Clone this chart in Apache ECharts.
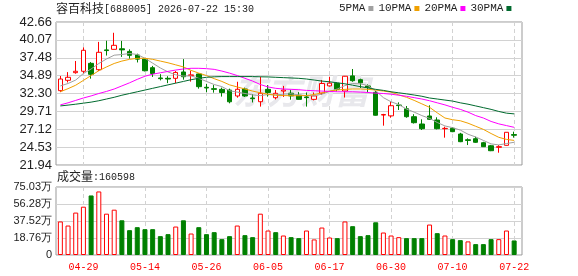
<!DOCTYPE html>
<html>
<head>
<meta charset="utf-8">
<script src="https://cdn.jsdelivr.net/npm/echarts@6/dist/echarts.min.js"></script>
<style>
  html, body { margin: 0; padding: 0; background: #fff; }
  #chart { width: 578px; height: 276px; }
</style>
</head>
<body>
<div id="chart"></div>
<script>
  const dates = [
    "04-24", "04-27", "04-28", "04-29", "04-30", "05-06", "05-07", "05-08", "05-11", "05-12",
    "05-13", "05-14", "05-15", "05-18", "05-19", "05-20", "05-21", "05-22", "05-25", "05-26",
    "05-27", "05-28", "05-29", "06-01", "06-02", "06-03", "06-04", "06-05", "06-08", "06-09",
    "06-10", "06-11", "06-12", "06-15", "06-16", "06-17", "06-18", "06-22", "06-23", "06-24",
    "06-25", "06-26", "06-29", "06-30", "07-01", "07-02", "07-03", "07-06", "07-07", "07-08",
    "07-09", "07-10", "07-13", "07-14", "07-15", "07-16", "07-17", "07-20", "07-21", "07-22"
  ];
  const labelDates = ["04-29", "05-14", "05-26", "06-05", "06-17", "06-30", "07-10", "07-22"];

  const open = [
    32.71, 34.21, 35.32, 35.52, 36.67, 35.75, 38.62, 38.70, 38.78, 38.40,
    37.88, 37.30, 36.04, 34.55, 34.50, 34.50, 35.42, 34.90, 35.13, 33.20,
    33.00, 32.90, 32.80, 31.94, 32.95, 31.65, 31.11, 32.90, 31.69, 32.65,
    32.35, 32.05, 31.80, 31.45, 32.35, 33.40, 33.78, 32.66, 34.85, 34.30,
    33.40, 32.47, 29.18, 29.06, 30.63, 30.09, 28.94, 27.88, 29.04, 28.46,
    27.20, 27.26, 26.43, 25.60, 25.75, 25.17, 24.73, 24.50, 24.79, 26.35
  ];
  const close = [
    34.40, 34.65, 35.52, 38.56, 35.08, 38.27, 38.52, 39.28, 38.62, 37.83,
    37.28, 35.60, 35.20, 34.45, 34.40, 35.35, 34.73, 35.00, 33.29, 33.10,
    32.90, 32.45, 31.10, 32.91, 31.94, 31.55, 32.33, 32.45, 32.33, 32.80,
    31.95, 31.45, 31.70, 31.95, 33.75, 33.80, 32.91, 34.80, 34.15, 33.85,
    33.20, 29.15, 29.25, 30.53, 30.55, 28.94, 28.07, 27.20, 28.56, 27.20,
    27.25, 26.77, 25.32, 25.50, 25.23, 24.59, 24.01, 24.60, 26.68, 26.25
  ];
  const low = [
    32.50, 33.90, 35.17, 35.23, 34.45, 35.55, 37.80, 38.68, 37.60, 37.35,
    36.80, 35.50, 34.70, 34.20, 33.80, 33.80, 34.30, 34.02, 33.00, 32.50,
    32.42, 31.85, 30.88, 31.70, 31.80, 31.00, 30.40, 31.85, 31.45, 31.80,
    31.40, 31.40, 30.40, 31.30, 32.10, 33.30, 32.60, 31.72, 34.00, 33.10,
    32.47, 29.10, 27.64, 28.79, 29.91, 28.79, 27.95, 27.01, 28.46, 27.10,
    25.90, 26.70, 25.25, 24.83, 25.15, 24.55, 23.95, 23.72, 24.75, 25.90
  ];
  const high = [
    34.84, 35.40, 37.01, 38.99, 36.85, 39.78, 39.95, 41.10, 39.92, 38.70,
    38.07, 37.35, 36.30, 35.10, 34.80, 35.55, 37.28, 35.60, 35.20, 33.70,
    33.52, 33.15, 33.00, 34.00, 33.15, 32.20, 34.73, 33.52, 32.81, 33.40,
    32.80, 32.50, 32.45, 32.45, 34.26, 34.73, 33.90, 34.84, 35.85, 34.45,
    33.62, 32.65, 29.35, 31.21, 31.02, 30.49, 29.30, 28.56, 30.59, 28.85,
    27.49, 27.40, 26.60, 25.80, 26.04, 25.30, 24.85, 24.83, 26.70, 26.77
  ];

  // volume, in units of 万 shares
  const volume = [
    37.0, 32.5, 46.8, 53.3, 65.7, 70.1, 45.6, 50.0, 38.3, 27.4,
    30.7, 28.5, 28.5, 20.8, 23.0, 31.4, 38.3, 23.7, 30.7, 23.0,
    25.2, 17.5, 20.8, 32.5, 21.9, 19.7, 45.6, 27.0, 25.2, 21.5,
    19.7, 18.6, 27.0, 17.2, 30.3, 19.3, 18.6, 37.0, 31.8, 20.8,
    21.9, 36.1, 24.8, 21.5, 19.7, 18.6, 18.6, 18.6, 33.6, 24.1,
    21.5, 17.5, 16.4, 15.0, 12.0, 12.0, 17.5, 17.5, 27.0, 16.06
  ];

  const ma5 = [
    33.40, 33.75, 34.25, 35.20, 35.85, 36.65, 37.30, 37.85, 37.95, 38.10,
    37.95, 37.40, 36.70, 36.00, 35.42, 35.00, 34.83, 34.85, 34.50, 34.05,
    33.60, 33.30, 32.70, 32.50, 32.30, 32.10, 32.00, 32.15, 32.10, 32.20,
    32.25, 32.10, 32.00, 31.98, 32.20, 32.60, 32.95, 33.45, 33.75, 33.70,
    33.45, 32.70, 31.70, 31.10, 30.70, 30.05, 29.60, 29.10, 28.70, 28.10,
    27.60, 27.35, 27.00, 26.40, 26.00, 25.50, 25.00, 24.85, 25.05, 25.23
  ];
  const ma10 = [
    32.56, 33.00, 33.50, 34.20, 34.90, 35.60, 36.15, 36.65, 37.00, 37.25,
    37.40, 37.40, 37.25, 37.00, 36.75, 36.45, 36.15, 35.65, 35.25, 34.90,
    34.45, 34.05, 33.55, 33.25, 32.95, 32.65, 32.40, 32.20, 32.05, 32.00,
    31.98, 31.98, 32.00, 32.15, 32.40, 32.65, 32.80, 32.90, 32.95, 32.95,
    32.90, 32.80, 32.65, 32.50, 32.10, 31.75, 31.30, 30.80, 30.30, 29.50,
    28.75, 28.50, 28.35, 28.00, 27.55, 27.10, 26.50, 25.95, 25.65, 25.50
  ];
  const ma20 = [
    30.65, 30.95, 31.30, 31.65, 31.95, 32.30, 32.60, 32.95, 33.40, 33.85,
    34.35, 34.80, 35.10, 35.30, 35.50, 35.70, 35.85, 35.95, 35.95, 35.90,
    35.80, 35.55, 35.25, 34.90, 34.50, 34.10, 33.60, 33.25, 33.05, 32.95,
    32.90, 32.85, 32.75, 32.70, 32.65, 32.60, 32.55, 32.55, 32.55, 32.50,
    32.45, 32.35, 32.30, 32.20, 32.05, 31.90, 31.70, 31.50, 31.25, 30.95,
    30.65, 30.30, 30.00, 29.60, 29.10, 28.75, 28.25, 27.90, 27.65, 27.40
  ];
  const ma30 = [
    30.50, 30.62, 30.75, 30.90, 31.05, 31.25, 31.50, 31.75, 32.05, 32.30,
    32.55, 32.80, 33.05, 33.30, 33.55, 33.80, 34.05, 34.30, 34.50, 34.65,
    34.72, 34.75, 34.75, 34.75, 34.75, 34.75, 34.72, 34.70, 34.65, 34.60,
    34.55, 34.50, 34.40, 34.25, 34.10, 34.00, 33.85, 33.70, 33.50, 33.30,
    33.10, 32.90, 32.75, 32.55, 32.40, 32.25, 32.08, 31.90, 31.65, 31.50,
    31.35, 31.20, 30.95, 30.75, 30.50, 30.25, 30.00, 29.70, 29.45, 29.35
  ];

  const volTicks = ["0", "18.76万", "37.52万", "56.28万", "75.03万"];
  const lastVolume = "160598";

  const colors = {
    up: "#ff0000",
    down: "#008000",
    ma5: "#a0a0a0",
    ma10: "#f0a000",
    ma20: "#ff00ff",
    ma30: "#006a2e",
    split: "#d2d2d2",
    frame: "#999999",
    text: "#222222"
  };

  const chart = echarts.init(document.getElementById("chart"), null, { renderer: "canvas" });

  const candleData = dates.map((d, i) => [open[i], close[i], low[i], high[i]]);

  // volume bar colour follows the close against the previous close
  const volData = volume.map((v, i) => {
    const ref = i > 0 ? close[i - 1] : open[i];
    const up = close[i] >= ref;
    return {
      value: v,
      itemStyle: up
        ? { color: "#ffffff", borderColor: colors.up, borderWidth: 1 }
        : { color: colors.down, borderColor: colors.down, borderWidth: 1 }
    };
  });

  const showDate = (index, value) => labelDates.indexOf(value) >= 0;

  const dashed = {
    show: true,
    interval: showDate,
    alignWithLabel: true,
    lineStyle: { color: colors.split, type: [4, 3], width: 1 }
  };

  function maSeries(name, data, color) {
    return {
      name,
      type: "line",
      xAxisIndex: 1,
      yAxisIndex: 1,
      data,
      symbol: "none",
      smooth: false,
      lineStyle: { width: 1, color },
      itemStyle: { color },
      z: 3
    };
  }

  const monoFont = '"Liberation Mono", monospace';
  const cjkFont = '"Noto Sans CJK SC", sans-serif';

  chart.setOption({
    animation: false,
    backgroundColor: "#ffffff",
    legend: {
      data: ["5PMA", "10PMA", "20PMA", "30PMA"],
      left: 339,
      top: 3,
      padding: 0,
      align: "right",
      icon: "rect",
      itemWidth: 5,
      itemHeight: 5,
      itemGap: 5,
      selectedMode: false,
      textStyle: { fontFamily: monoFont, fontSize: 11, color: colors.text, padding: [0, -2, 0, 0] }
    },
    graphic: [
      {
        type: "text",
        left: 56,
        top: 2,
        style: { text: "容百科技", font: "12px " + cjkFont, fill: colors.text }
      },
      {
        type: "text",
        left: 104,
        top: 4,
        style: { text: "[688005] 2026-07-22 15:30", font: "10px " + monoFont, fill: colors.text }
      },
      {
        type: "text",
        left: 57,
        top: 170,
        style: { text: "成交量", font: "12px " + cjkFont, fill: colors.text }
      },
      {
        type: "text",
        left: 93,
        top: 172,
        style: { text: ":" + lastVolume, font: "10px " + monoFont, fill: colors.text }
      },
      {
        type: "text",
        left: 233,
        top: 74,
        z: 1,
        style: { text: "东方财富", font: "italic bold 34px " + cjkFont, fill: "#e8e8ec" }
      }
    ],
    grid: [
      { left: 56, top: 22, width: 466, height: 143, show: true, borderColor: colors.frame, borderWidth: 1 },
      { left: 56.5, top: 22, width: 461.5, height: 143 },
      { left: 56, top: 187, width: 466, height: 68, show: true, borderColor: colors.frame, borderWidth: 1 },
      { left: 56.5, top: 187, width: 461.5, height: 68 }
    ],
    xAxis: [
      { type: "value", gridIndex: 0, show: false, min: 0, max: 1 },
      {
        type: "category",
        gridIndex: 1,
        data: dates,
        boundaryGap: true,
        axisLine: { show: false },
        axisTick: { show: false },
        axisLabel: { show: false },
        splitLine: dashed
      },
      { type: "value", gridIndex: 2, show: false, min: 0, max: 1 },
      {
        type: "category",
        gridIndex: 3,
        data: dates,
        boundaryGap: true,
        axisLine: { show: false },
        axisTick: { show: false },
        axisLabel: {
          interval: showDate,
          color: colors.up,
          fontFamily: monoFont,
          fontSize: 10,
          margin: 7
        },
        splitLine: dashed
      }
    ],
    yAxis: [
      {
        type: "value",
        gridIndex: 0,
        min: 21.94,
        max: 42.66,
        interval: 2.59,
        axisLine: { show: false },
        axisTick: { show: false },
        axisLabel: {
          formatter: (v) => v.toFixed(2),
          fontFamily: '"Liberation Sans", Arial, sans-serif',
          fontSize: 13,
          color: colors.text,
          margin: 4
        },
        splitLine: { lineStyle: { color: colors.split, width: 1 } }
      },
      { type: "value", gridIndex: 1, min: 21.94, max: 42.66, show: false },
      {
        type: "value",
        gridIndex: 2,
        min: 0,
        max: 75.03,
        interval: 18.7575,
        axisLine: { show: false },
        axisTick: { show: false },
        axisLabel: {
          formatter: (v, i) => volTicks[i],
          fontFamily: '"Liberation Sans", Arial, sans-serif',
          fontSize: 11,
          color: colors.text,
          margin: 4
        },
        splitLine: { lineStyle: { color: colors.split, width: 1 } }
      },
      { type: "value", gridIndex: 3, min: 0, max: 75.03, show: false }
    ],
    series: [
      {
        name: "K",
        type: "candlestick",
        xAxisIndex: 1,
        yAxisIndex: 1,
        data: candleData,
        barWidth: 5,
        itemStyle: {
          color: "#ffffff",
          color0: colors.down,
          borderColor: colors.up,
          borderColor0: colors.down,
          borderWidth: 1
        },
        z: 2
      },
      maSeries("5PMA", ma5, colors.ma5),
      maSeries("10PMA", ma10, colors.ma10),
      maSeries("20PMA", ma20, colors.ma20),
      maSeries("30PMA", ma30, colors.ma30),
      {
        name: "VOL",
        type: "bar",
        xAxisIndex: 3,
        yAxisIndex: 3,
        data: volData,
        barWidth: 5
      }
    ]
  });
</script>
</body>
</html>
